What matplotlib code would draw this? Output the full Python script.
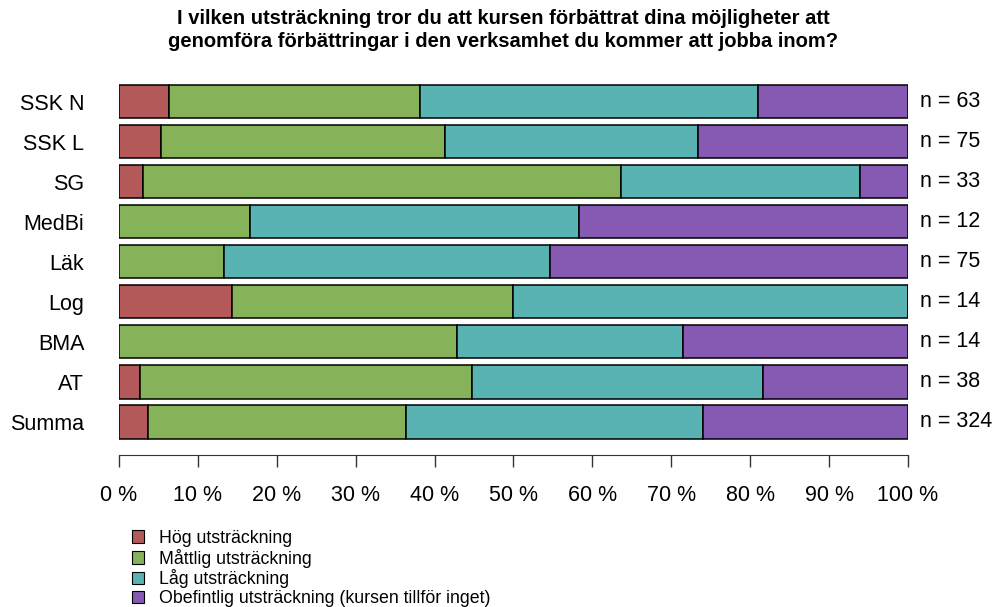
import matplotlib.pyplot as plt
from matplotlib.patches import Patch
import numpy as np

# counts per group: hög, måttlig, låg, obefintlig
groups = ['SSK N', 'SSK L', 'SG', 'MedBi', 'Läk', 'Log', 'BMA', 'AT', 'Summa']
hog = [4, 4, 1, 0, 0, 2, 0, 1, 12]
mattlig = [20, 27, 20, 2, 10, 5, 6, 16, 106]
lag = [27, 24, 10, 5, 31, 7, 4, 14, 122]
obefintlig = [12, 20, 2, 5, 34, 0, 4, 7, 84]
cats = ['Hög utsträckning', 'Måttlig utsträckning', 'Låg utsträckning',
        'Obefintlig utsträckning (kursen tillför inget)']
colors = ['#B35959', '#86B359', '#59B3B3', '#8659B3']
ticks = [0, 10, 20, 30, 40, 50, 60, 70, 80, 90, 100]

plt.rcParams['font.family'] = ['Liberation Sans', 'DejaVu Sans']

W, H = 995, 607
fig = plt.figure(figsize=(W / 100, H / 100), dpi=100)
ax = fig.add_axes([119 / W, 1 - 442 / H, (908 - 119) / W, (442 - 81.5) / H])

counts = np.array([hog, mattlig, lag, obefintlig], dtype=float)
n = counts.sum(axis=0)
pct = counts / n * 100
y = np.arange(len(groups))
left = np.zeros(len(groups))
for k in range(4):
    ax.barh(y, pct[k], left=left, height=0.83, color=colors[k],
            edgecolor='black', linewidth=1.1)
    left += pct[k]

for i in range(len(groups)):
    ax.annotate('n = %d' % n[i], (100, y[i]), xytext=(9, 0), textcoords='offset points',
                va='center', ha='left', fontsize=15.5)

ax.set_xlim(0, 100)
ax.set_ylim(len(groups) - 0.5, -0.5)
ax.set_yticks(y)
ax.set_yticklabels(groups)
ax.tick_params(axis='y', length=0, pad=25, labelsize=15.5)
ax.set_xticks(ticks)
ax.set_xticklabels(['%d %%' % t for t in ticks])
ax.tick_params(axis='x', length=8.5, width=1, color='#333333', pad=13,
               direction='out', labelsize=15.5)
for s in ['top', 'right', 'left']:
    ax.spines[s].set_visible(False)
ax.spines['bottom'].set_position(('outward', 9.5))
ax.spines['bottom'].set_bounds(0, 100)
ax.spines['bottom'].set_color('#333333')

fig.text(503 / W, 1 - 9 / H, 'I vilken utsträckning tror du att kursen förbättrat dina möjligheter att\n'
         'genomföra förbättringar i den verksamhet du kommer att jobba inom?',
         ha='center', va='top', fontsize=14.5, fontweight='bold', linespacing=1.28)

handles = [Patch(facecolor=c, edgecolor='black', linewidth=0.8) for c in colors]
fig.legend(handles, cats, loc='upper left', bbox_to_anchor=(123 / W, 1 - 521 / H),
           frameon=False, fontsize=12.8, handlelength=0.7, handleheight=0.7,
           labelspacing=0.1, handletextpad=0.8, borderpad=0)

fig.savefig('out.png', dpi=100)
